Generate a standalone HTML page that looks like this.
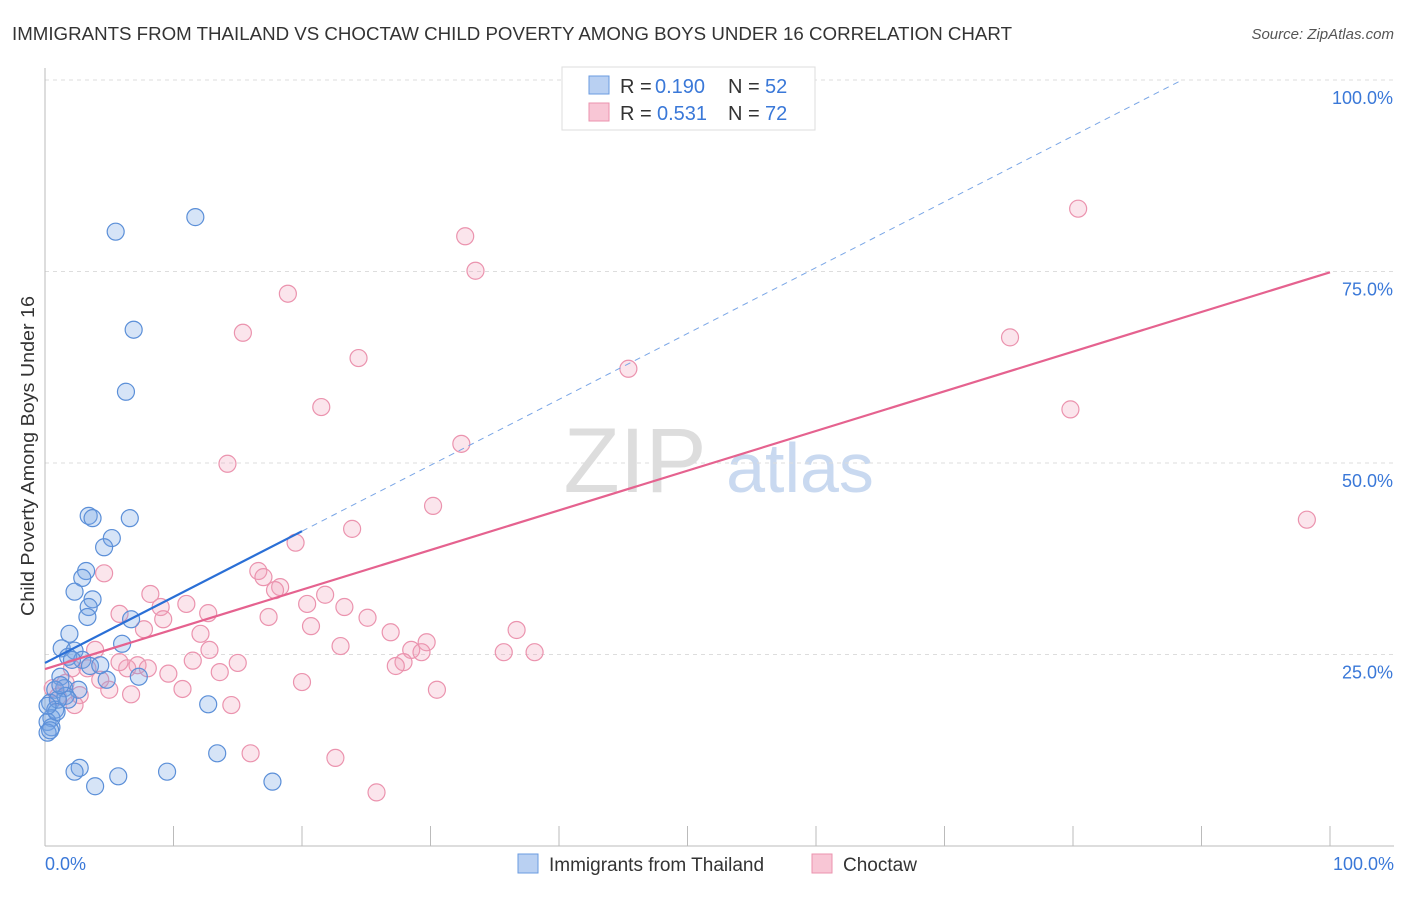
<!DOCTYPE html>
<html><head><meta charset="utf-8"><style>
body{margin:0;background:#fff;font-family:"Liberation Sans",sans-serif;}
svg text{font-family:"Liberation Sans",sans-serif;}
</style></head><body>
<svg id="chart" width="1406" height="892" xmlns="http://www.w3.org/2000/svg">
<text x="12" y="40" font-size="18" fill="#333" textLength="1000" lengthAdjust="spacingAndGlyphs">IMMIGRANTS FROM THAILAND VS CHOCTAW CHILD POVERTY AMONG BOYS UNDER 16 CORRELATION CHART</text>
<text x="1394" y="39" font-size="15" fill="#555" font-style="italic" text-anchor="end">Source: ZipAtlas.com</text>
<text x="34" y="456" font-size="18" fill="#333" text-anchor="middle" textLength="320" lengthAdjust="spacingAndGlyphs" transform="rotate(-90 34 456)">Child Poverty Among Boys Under 16</text>
<g><text x="635" y="492" font-size="92" fill="#ddd" text-anchor="middle" font-family="Liberation Serif">ZIP</text><text x="800" y="492" font-size="70" fill="#c9d9f0" text-anchor="middle">atlas</text></g>
<g id="grid"></g><g id="pts"></g><g id="trend"></g>
<g>
<rect x="562" y="67" width="253" height="63" fill="#fff" stroke="#ddd"/>
<rect x="589" y="76" width="20" height="18" fill="#b9d0f2" stroke="#6a9be0"/>
<rect x="589" y="103" width="20" height="18" fill="#f8c6d5" stroke="#eb93ae"/>
<text x="620" y="93" font-size="20" fill="#333">R =</text><text x="655" y="93" font-size="20" fill="#3a78d8">0.190</text>
<text x="728" y="93" font-size="20" fill="#333">N =</text><text x="765" y="93" font-size="20" fill="#3a78d8">52</text>
<text x="620" y="120" font-size="20" fill="#333">R =</text><text x="657" y="120" font-size="20" fill="#3a78d8">0.531</text>
<text x="728" y="120" font-size="20" fill="#333">N =</text><text x="765" y="120" font-size="20" fill="#3a78d8">72</text>
</g>
<g>
<rect x="518" y="854" width="20" height="19" fill="#b9d0f2" stroke="#6a9be0"/>
<text x="549" y="871" font-size="19" fill="#333">Immigrants from Thailand</text>
<rect x="812" y="854" width="20" height="19" fill="#f8c6d5" stroke="#eb93ae"/>
<text x="843" y="871" font-size="19" fill="#333">Choctaw</text>
</g>
</svg>
<script>
const yTicks=[25,50,75,100];
const yTickLabels=["25.0%","50.0%","75.0%","100.0%"];
const xTicks=[0,10,20,30,40,50,60,70,80,90,100];
const blueX=[5.5,11.7,6.9,6.3,3.4,3.7,6.6,5.2,4.6,3.2,2.9,2.3,3.7,3.4,3.3,6.7,1.9,6.0,1.3,2.3,1.8,2.9,2.1,3.5,4.8,7.3,1.2,1.5,0.8,2.6,1.6,1.8,0.4,0.8,0.5,0.2,0.5,0.2,12.7,13.4,9.5,5.7,2.7,2.3,3.9,17.7,1.0,0.9,0.2,0.4,1.2,4.3];
const blueY=[80.2,82.1,67.4,59.3,43.1,42.8,42.8,40.2,39.0,35.9,35.0,33.2,32.2,31.2,29.9,29.6,27.7,26.4,25.8,25.5,24.7,24.3,24.3,23.5,21.7,22.1,22.1,20.6,20.4,20.4,19.6,19.1,18.7,17.8,16.7,16.2,15.5,14.8,18.5,12.1,9.7,9.1,10.2,9.7,7.8,8.4,19.1,17.5,18.3,15.1,21.0,23.6];
const pinkX=[80.4,32.7,33.5,18.9,15.4,24.4,45.4,75.1,79.8,21.5,14.2,32.4,30.2,23.9,19.5,98.2,4.6,16.6,17.0,18.3,17.9,8.2,9.0,11.0,20.4,21.8,23.3,5.8,9.2,12.7,7.7,17.4,20.7,25.1,12.1,26.9,36.7,23.0,29.7,28.5,29.3,38.1,35.7,12.8,3.9,2.1,3.3,6.4,7.2,11.5,15.0,9.6,13.6,27.9,27.3,5.0,10.7,6.7,20.0,30.5,2.7,0.6,14.5,16.0,22.6,25.8,1.6,1.0,2.3,4.3,8.0,5.8];
const pinkY=[83.2,79.6,75.1,72.1,67.0,63.7,62.3,66.4,57.0,57.3,49.9,52.5,44.4,41.4,39.6,42.6,35.6,35.9,35.1,33.8,33.4,32.9,31.2,31.6,31.6,32.8,31.2,30.3,29.6,30.4,28.3,29.9,28.7,29.8,27.7,27.9,28.2,26.1,26.6,25.6,25.3,25.3,25.3,25.6,25.6,23.2,23.2,23.2,23.6,24.2,23.9,22.5,22.7,24.0,23.5,20.4,20.5,19.8,21.4,20.4,19.7,20.6,18.4,12.1,11.5,7.0,21.3,19.5,18.4,21.7,23.2,24.0];
const blueTrend=[23.9,41.1];   // y at x=0 and x=20
const pinkTrend=[23.1,74.9];   // y at x=0 and x=100
const NS="http://www.w3.org/2000/svg";
const sx=v=>45+v*12.85, sy=v=>846-v*7.66;
function mk(tag,attrs,parent){const e=document.createElementNS(NS,tag);for(const k in attrs)e.setAttribute(k,attrs[k]);parent.appendChild(e);return e;}
const grid=document.getElementById('grid');
yTicks.forEach((t,i)=>{
 const l=mk('line',{x1:45,x2:1394,y1:sy(t),y2:sy(t),stroke:'#ddd','stroke-dasharray':'4,4'},grid);
 
 
 const tx=mk('text',{x:1393,y:sy(t)+24,'font-size':18,fill:'#3a78d8','text-anchor':'end'},grid);
 tx.textContent=yTickLabels[i];
 
 
});
const ax=mk('line',{x1:45,x2:45,y1:68,y2:846,stroke:'#bbb'},grid);


const bx=mk('line',{x1:45,x2:1394,y1:846,y2:846,stroke:'#bbb'},grid);


xTicks.forEach(t=>{
 const l=mk('line',{x1:sx(t),x2:sx(t),y1:826,y2:846,stroke:'#bbb'},grid);
 
 
});
const xl0=mk('text',{x:45,y:870,'font-size':18,fill:'#3a78d8'},grid);xl0.textContent='0.0%';


const xl1=mk('text',{x:1394,y:870,'font-size':18,fill:'#3a78d8','text-anchor':'end'},grid);xl1.textContent='100.0%';


const pts=document.getElementById('pts');
pinkX.forEach((x,i)=>{
 const c=mk('circle',{cx:sx(x),cy:sy(pinkY[i]),r:8.5,fill:'rgba(242,160,187,0.28)',stroke:'#eb93ae','stroke-width':1.2},pts);
 
 
});
blueX.forEach((x,i)=>{
 const c=mk('circle',{cx:sx(x),cy:sy(blueY[i]),r:8.5,fill:'rgba(120,165,230,0.3)',stroke:'#5b8fd8','stroke-width':1.2},pts);
 
 
});
const tr=document.getElementById('trend');
const bs=(blueTrend[1]-blueTrend[0])/20;
const xEnd=(100-blueTrend[0])/bs;
const bd=mk('line',{x1:sx(20),y1:sy(blueTrend[1]),x2:sx(xEnd),y2:sy(100),stroke:'#7aa6e6','stroke-width':1,'stroke-dasharray':'6,5'},tr);


const bl=mk('line',{x1:sx(0),y1:sy(blueTrend[0]),x2:sx(20),y2:sy(blueTrend[1]),stroke:'#2a6fd6','stroke-width':2.2},tr);


const pl=mk('line',{x1:sx(0),y1:sy(pinkTrend[0]),x2:sx(100),y2:sy(pinkTrend[1]),stroke:'#e5628f','stroke-width':2.2},tr);


</script>
</body></html>
